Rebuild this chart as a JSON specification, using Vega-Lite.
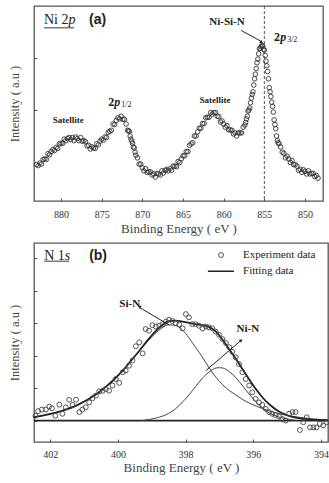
{
  "$schema": "https://vega.github.io/schema/vega-lite/v6.json",
  "background": "white",
  "padding": {"left": 7, "top": 4, "right": 2, "bottom": 0},
  "spacing": 6,
  "config": {
    "view": {"stroke": "#555", "strokeWidth": 1.3}
  },
  "datasets": {
    "ni2p": [
      {"e":883.0,"i":0.95},{"e":882.8,"i":0.93},{"e":882.6,"i":0.98},{"e":882.4,"i":0.96},{"e":882.2,"i":1.05},{"e":882.0,"i":1.06},{"e":881.8,"i":1.05},{"e":881.6,"i":1.16},{"e":881.4,"i":1.14},{"e":881.2,"i":1.20},
      {"e":881.0,"i":1.24},{"e":880.8,"i":1.22},{"e":880.6,"i":1.28},{"e":880.4,"i":1.26},{"e":880.2,"i":1.35},{"e":880.0,"i":1.36},{"e":879.8,"i":1.36},{"e":879.6,"i":1.44},{"e":879.4,"i":1.41},{"e":879.2,"i":1.45},
      {"e":879.0,"i":1.47},{"e":878.8,"i":1.43},{"e":878.6,"i":1.47},{"e":878.4,"i":1.41},{"e":878.2,"i":1.48},{"e":878.0,"i":1.45},{"e":877.8,"i":1.41},{"e":877.6,"i":1.47},{"e":877.4,"i":1.40},{"e":877.2,"i":1.41},
      {"e":877.0,"i":1.39},{"e":876.8,"i":1.31},{"e":876.6,"i":1.32},{"e":876.4,"i":1.25},{"e":876.2,"i":1.29},{"e":876.0,"i":1.27},{"e":875.8,"i":1.26},{"e":875.6,"i":1.35},{"e":875.4,"i":1.33},{"e":875.2,"i":1.40},
      {"e":875.0,"i":1.44},{"e":874.8,"i":1.42},{"e":874.6,"i":1.48},{"e":874.4,"i":1.47},{"e":874.2,"i":1.57},{"e":874.0,"i":1.59},{"e":873.8,"i":1.61},{"e":873.6,"i":1.73},{"e":873.4,"i":1.72},{"e":873.2,"i":1.80},
      {"e":873.0,"i":1.85},{"e":872.8,"i":1.83},{"e":872.6,"i":1.88},{"e":872.4,"i":1.82},{"e":872.2,"i":1.82},{"e":872.0,"i":1.73},{"e":871.8,"i":1.61},{"e":871.7,"i":1.60},{"e":871.6,"i":1.59},{"e":871.5,"i":1.50},
      {"e":871.4,"i":1.44},{"e":871.3,"i":1.40},{"e":871.2,"i":1.36},{"e":871.1,"i":1.29},{"e":871.0,"i":1.27},{"e":870.9,"i":1.19},{"e":870.8,"i":1.13},{"e":870.6,"i":1.08},{"e":870.4,"i":0.96},{"e":870.2,"i":0.96},
      {"e":870.0,"i":0.89},{"e":869.8,"i":0.83},{"e":869.6,"i":0.87},{"e":869.4,"i":0.80},{"e":869.2,"i":0.81},{"e":869.0,"i":0.81},{"e":868.8,"i":0.75},{"e":868.6,"i":0.77},{"e":868.4,"i":0.71},{"e":868.2,"i":0.78},
      {"e":868.0,"i":0.77},{"e":867.8,"i":0.75},{"e":867.6,"i":0.83},{"e":867.4,"i":0.79},{"e":867.2,"i":0.84},{"e":867.0,"i":0.86},{"e":866.8,"i":0.83},{"e":866.6,"i":0.87},{"e":866.4,"i":0.84},{"e":866.2,"i":0.92},
      {"e":866.0,"i":0.92},{"e":865.8,"i":0.91},{"e":865.6,"i":1.01},{"e":865.4,"i":0.99},{"e":865.2,"i":1.06},{"e":865.0,"i":1.12},{"e":864.8,"i":1.12},{"e":864.6,"i":1.20},{"e":864.4,"i":1.20},{"e":864.2,"i":1.32},
      {"e":864.0,"i":1.35},{"e":863.8,"i":1.37},{"e":863.6,"i":1.50},{"e":863.4,"i":1.50},{"e":863.2,"i":1.58},{"e":863.0,"i":1.65},{"e":862.8,"i":1.65},{"e":862.6,"i":1.74},{"e":862.4,"i":1.74},{"e":862.2,"i":1.85},
      {"e":862.0,"i":1.86},{"e":861.8,"i":1.86},{"e":861.6,"i":1.95},{"e":861.4,"i":1.92},{"e":861.2,"i":1.95},{"e":861.0,"i":1.95},{"e":860.8,"i":1.88},{"e":860.6,"i":1.87},{"e":860.4,"i":1.77},{"e":860.2,"i":1.79},
      {"e":860.0,"i":1.73},{"e":859.8,"i":1.67},{"e":859.6,"i":1.70},{"e":859.4,"i":1.62},{"e":859.2,"i":1.62},{"e":859.0,"i":1.61},{"e":858.8,"i":1.54},{"e":858.6,"i":1.56},{"e":858.4,"i":1.50},{"e":858.2,"i":1.56},
      {"e":858.0,"i":1.56},{"e":857.8,"i":1.56},{"e":857.6,"i":1.67},{"e":857.4,"i":1.71},{"e":857.3,"i":1.76},{"e":857.2,"i":1.83},{"e":857.1,"i":1.88},{"e":857.0,"i":1.98},{"e":856.9,"i":2.00},{"e":856.8,"i":2.04},
      {"e":856.7,"i":2.14},{"e":856.6,"i":2.23},{"e":856.5,"i":2.30},{"e":856.4,"i":2.35},{"e":856.3,"i":2.48},{"e":856.2,"i":2.60},{"e":856.1,"i":2.69},{"e":856.0,"i":2.80},{"e":855.9,"i":2.91},{"e":855.8,"i":2.98},
      {"e":855.7,"i":3.08},{"e":855.6,"i":3.18},{"e":855.5,"i":3.19},{"e":855.4,"i":3.22},{"e":855.3,"i":3.24},{"e":855.2,"i":3.23},{"e":855.1,"i":3.17},{"e":855.0,"i":3.15},{"e":854.9,"i":3.05},{"e":854.8,"i":2.94},
      {"e":854.7,"i":2.85},{"e":854.6,"i":2.74},{"e":854.5,"i":2.60},{"e":854.4,"i":2.43},{"e":854.3,"i":2.35},{"e":854.2,"i":2.26},{"e":854.1,"i":2.15},{"e":854.0,"i":2.07},{"e":853.9,"i":1.96},{"e":853.8,"i":1.81},
      {"e":853.7,"i":1.72},{"e":853.6,"i":1.64},{"e":853.5,"i":1.50},{"e":853.4,"i":1.41},{"e":853.3,"i":1.37},{"e":853.2,"i":1.35},{"e":853.0,"i":1.29},{"e":852.8,"i":1.19},{"e":852.6,"i":1.17},{"e":852.4,"i":1.08},
      {"e":852.2,"i":1.11},{"e":852.0,"i":1.06},{"e":851.8,"i":0.99},{"e":851.6,"i":1.03},{"e":851.4,"i":0.95},{"e":851.2,"i":0.95},{"e":851.0,"i":0.92},{"e":850.8,"i":0.84},{"e":850.6,"i":0.86},{"e":850.4,"i":0.80},
      {"e":850.2,"i":0.85},{"e":850.0,"i":0.82},{"e":849.8,"i":0.77},{"e":849.6,"i":0.83},{"e":849.4,"i":0.77},{"e":849.2,"i":0.78},{"e":849.0,"i":0.78},{"e":848.8,"i":0.72},{"e":848.6,"i":0.74},{"e":848.4,"i":0.69}
    ],
    "n1s": [
      {"e":402.44,"i":0.15},{"e":402.36,"i":0.29},{"e":402.25,"i":0.34},{"e":402.13,"i":0.34},{"e":402.03,"i":0.43},{"e":401.95,"i":0.38},{"e":401.85,"i":0.15},{"e":401.73,"i":0.49},{"e":401.64,"i":0.21},{"e":401.54,"i":0.41},
      {"e":401.44,"i":0.64},{"e":401.34,"i":0.48},{"e":401.24,"i":0.64},{"e":401.14,"i":0.26},{"e":401.05,"i":0.34},{"e":400.95,"i":0.41},{"e":400.85,"i":0.56},{"e":400.75,"i":0.69},{"e":400.65,"i":0.77},{"e":400.55,"i":0.90},
      {"e":400.45,"i":0.92},{"e":400.36,"i":0.97},{"e":400.26,"i":0.92},{"e":400.16,"i":1.08},{"e":400.06,"i":1.28},{"e":399.96,"i":1.16},{"e":399.86,"i":1.49},{"e":399.77,"i":1.54},{"e":399.67,"i":1.69},{"e":399.57,"i":1.85},
      {"e":399.47,"i":2.29},{"e":399.37,"i":2.41},{"e":399.27,"i":2.07},{"e":399.18,"i":2.82},{"e":399.08,"i":2.77},{"e":398.98,"i":2.94},{"e":398.88,"i":2.90},{"e":398.78,"i":2.92},{"e":398.68,"i":2.97},{"e":398.58,"i":3.05},
      {"e":398.49,"i":3.11},{"e":398.39,"i":3.07},{"e":398.29,"i":3.00},{"e":398.19,"i":2.96},{"e":398.09,"i":2.84},{"e":397.99,"i":3.28},{"e":397.90,"i":3.18},{"e":397.80,"i":2.97},{"e":397.70,"i":2.97},{"e":397.60,"i":2.92},
      {"e":397.50,"i":2.84},{"e":397.40,"i":2.90},{"e":397.31,"i":2.87},{"e":397.21,"i":2.84},{"e":397.11,"i":2.74},{"e":397.01,"i":2.64},{"e":396.91,"i":2.51},{"e":396.81,"i":2.39},{"e":396.71,"i":2.26},{"e":396.62,"i":2.12},
      {"e":396.52,"i":1.95},{"e":396.42,"i":1.74},{"e":396.32,"i":1.49},{"e":396.22,"i":1.28},{"e":396.12,"i":1.08},{"e":396.03,"i":0.87},{"e":395.93,"i":0.67},{"e":395.83,"i":0.56},{"e":395.73,"i":0.48},{"e":395.63,"i":0.36},
      {"e":395.53,"i":0.26},{"e":395.44,"i":0.21},{"e":395.34,"i":0.17},{"e":395.24,"i":0.13},{"e":395.14,"i":0.05},{"e":395.04,"i":0.00},{"e":394.94,"i":0.21},{"e":394.84,"i":0.26},{"e":394.75,"i":0.26},{"e":394.62,"i":-0.29},
      {"e":394.52,"i":-0.05},{"e":394.42,"i":0.10},{"e":394.32,"i":-0.21},{"e":394.22,"i":-0.21},{"e":394.13,"i":-0.21},{"e":394.03,"i":-0.10},{"e":393.93,"i":-0.15},{"e":393.83,"i":-0.05}
    ],
    "env": [
      {"e":402.5,"i":0.10},{"e":402.3,"i":0.14},{"e":402.1,"i":0.18},{"e":401.9,"i":0.23},{"e":401.7,"i":0.28},{"e":401.5,"i":0.35},{"e":401.3,"i":0.43},{"e":401.1,"i":0.53},{"e":400.9,"i":0.64},{"e":400.7,"i":0.77},
      {"e":400.5,"i":0.92},{"e":400.3,"i":1.09},{"e":400.1,"i":1.28},{"e":399.9,"i":1.49},{"e":399.7,"i":1.73},{"e":399.5,"i":1.98},{"e":399.3,"i":2.24},{"e":399.1,"i":2.50},{"e":398.9,"i":2.74},{"e":398.7,"i":2.93},
      {"e":398.5,"i":3.06},{"e":398.3,"i":3.08},{"e":398.1,"i":3.05},{"e":397.9,"i":3.01},{"e":397.7,"i":2.97},{"e":397.5,"i":2.94},{"e":397.3,"i":2.88},{"e":397.1,"i":2.74},{"e":396.9,"i":2.48},{"e":396.7,"i":2.18},
      {"e":396.5,"i":1.88},{"e":396.3,"i":1.56},{"e":396.1,"i":1.24},{"e":395.9,"i":0.94},{"e":395.7,"i":0.68},{"e":395.5,"i":0.48},{"e":395.3,"i":0.32},{"e":395.1,"i":0.21},{"e":394.9,"i":0.13},{"e":394.7,"i":0.08},
      {"e":394.5,"i":0.05},{"e":394.3,"i":0.03},{"e":394.1,"i":0.02},{"e":393.8,"i":0.01}
    ],
    "comp": [
      {"s":"Si-N","e":402.5,"i":0.10},{"s":"Si-N","e":402.3,"i":0.14},{"s":"Si-N","e":402.1,"i":0.18},{"s":"Si-N","e":401.9,"i":0.23},{"s":"Si-N","e":401.7,"i":0.28},{"s":"Si-N","e":401.5,"i":0.35},{"s":"Si-N","e":401.3,"i":0.43},{"s":"Si-N","e":401.1,"i":0.53},
      {"s":"Si-N","e":400.9,"i":0.64},{"s":"Si-N","e":400.7,"i":0.77},{"s":"Si-N","e":400.5,"i":0.92},{"s":"Si-N","e":400.3,"i":1.09},{"s":"Si-N","e":400.1,"i":1.28},{"s":"Si-N","e":399.9,"i":1.49},{"s":"Si-N","e":399.7,"i":1.73},{"s":"Si-N","e":399.5,"i":1.98},
      {"s":"Si-N","e":399.3,"i":2.23},{"s":"Si-N","e":399.1,"i":2.47},{"s":"Si-N","e":398.9,"i":2.68},{"s":"Si-N","e":398.7,"i":2.85},{"s":"Si-N","e":398.5,"i":2.95},{"s":"Si-N","e":398.3,"i":2.93},{"s":"Si-N","e":398.1,"i":2.80},{"s":"Si-N","e":397.9,"i":2.55},
      {"s":"Si-N","e":397.7,"i":2.25},{"s":"Si-N","e":397.5,"i":1.95},{"s":"Si-N","e":397.3,"i":1.62},{"s":"Si-N","e":397.1,"i":1.33},{"s":"Si-N","e":396.9,"i":1.10},{"s":"Si-N","e":396.7,"i":0.92},{"s":"Si-N","e":396.5,"i":0.78},{"s":"Si-N","e":396.3,"i":0.64},
      {"s":"Si-N","e":396.1,"i":0.53},{"s":"Si-N","e":395.9,"i":0.44},{"s":"Si-N","e":395.7,"i":0.36},{"s":"Si-N","e":395.5,"i":0.29},{"s":"Si-N","e":395.3,"i":0.23},{"s":"Si-N","e":395.1,"i":0.18},{"s":"Si-N","e":394.9,"i":0.14},{"s":"Si-N","e":394.7,"i":0.11},
      {"s":"Si-N","e":394.5,"i":0.08},{"s":"Si-N","e":394.3,"i":0.06},{"s":"Si-N","e":394.1,"i":0.04},{"s":"Si-N","e":393.8,"i":0.02},
      {"s":"Ni-N","e":399.3,"i":0.0},{"s":"Ni-N","e":399.1,"i":0.03},{"s":"Ni-N","e":398.9,"i":0.07},{"s":"Ni-N","e":398.7,"i":0.13},{"s":"Ni-N","e":398.5,"i":0.22},{"s":"Ni-N","e":398.3,"i":0.36},{"s":"Ni-N","e":398.1,"i":0.56},{"s":"Ni-N","e":397.9,"i":0.79},
      {"s":"Ni-N","e":397.7,"i":1.05},{"s":"Ni-N","e":397.5,"i":1.31},{"s":"Ni-N","e":397.3,"i":1.50},{"s":"Ni-N","e":397.1,"i":1.62},{"s":"Ni-N","e":397.0,"i":1.63},{"s":"Ni-N","e":396.9,"i":1.62},{"s":"Ni-N","e":396.7,"i":1.50},{"s":"Ni-N","e":396.5,"i":1.31},
      {"s":"Ni-N","e":396.3,"i":1.05},{"s":"Ni-N","e":396.1,"i":0.79},{"s":"Ni-N","e":395.9,"i":0.56},{"s":"Ni-N","e":395.7,"i":0.36},{"s":"Ni-N","e":395.5,"i":0.22},{"s":"Ni-N","e":395.3,"i":0.13},{"s":"Ni-N","e":395.1,"i":0.07},{"s":"Ni-N","e":394.9,"i":0.03},{"s":"Ni-N","e":394.7,"i":0.0}
    ]
  },
  "vconcat": [
    {
      "width": 289,
      "height": 195,
      "encoding": {
        "x": {"field": "e", "type": "quantitative", "scale": {"domain": [847.79, 883.32], "reverse": true, "nice": false, "zero": false},
              "axis": {"values": [880, 875, 870, 865, 860, 855, 850], "title": "Binding Energy ( eV )", "domain": false, "grid": false, "ticks": true, "tickSize": -3, "tickColor": "#555", "labelFont": "Liberation Serif", "labelFontSize": 10, "labelColor": "#333", "labelPadding": 11, "titleFont": "Liberation Serif", "titleFontSize": 13, "titleFontWeight": 400, "titleColor": "#444", "titlePadding": 3}},
        "y": {"field": "i", "type": "quantitative", "scale": {"domain": [0.25, 4.0], "nice": false, "zero": false},
              "axis": {"values": [2, 3], "title": "Intensity ( a.u )", "labels": false, "domain": false, "grid": false, "ticks": true, "tickSize": -3, "tickColor": "#555", "titleFont": "Liberation Serif", "titleFontSize": 12.5, "titleFontWeight": 400, "titleColor": "#444", "titlePadding": 12}}
      },
      "layer": [
        {"data": {"name": "ni2p"}, "mark": {"type": "point", "shape": "circle", "size": 21, "filled": false, "color": "#333", "strokeWidth": 0.9, "opacity": 1}},
        {"data": {"values": [{"e": 855}]}, "mark": {"type": "rule", "strokeDash": [3, 2], "color": "#444", "strokeWidth": 0.9}, "encoding": {"x": {"field": "e", "type": "quantitative"}, "y": null}},
        {"data": {"values": [{"e": 859.6, "i": 3.69, "t": "Ni-Si-N"}]}, "mark": {"type": "text", "font": "Liberation Serif", "fontWeight": "bold", "fontSize": 11, "align": "center", "baseline": "middle", "color": "#222"}, "encoding": {"text": {"field": "t"}}},
        {"data": {"values": [{"e": 879.1, "i": 1.81, "t": "Satellite"}, {"e": 861.06, "i": 2.19, "t": "Satellite"}]}, "mark": {"type": "text", "font": "Liberation Serif", "fontWeight": "bold", "fontSize": 9, "align": "center", "baseline": "middle", "color": "#222"}, "encoding": {"text": {"field": "t"}}},
        {"data": {"values": [{"e": 882.09, "i": 3.73, "t": "Ni 2"}]}, "mark": {"type": "text", "font": "Liberation Serif", "fontSize": 14, "align": "left", "baseline": "middle", "color": "#222"}, "encoding": {"text": {"field": "t"}}},
        {"data": {"values": [{"e": 879.08, "i": 3.73, "t": "p"}]}, "mark": {"type": "text", "font": "Liberation Serif", "fontStyle": "italic", "fontSize": 14, "align": "left", "baseline": "middle", "color": "#222"}, "encoding": {"text": {"field": "t"}}},
        {"data": {"values": [{"e": 882.09, "e2": 878.4, "i": 3.58}]}, "mark": {"type": "rule", "color": "#222", "strokeWidth": 0.9}, "encoding": {"x2": {"field": "e2"}}},
        {"data": {"values": [{"e": 876.56, "i": 3.73, "t": "(a)"}]}, "mark": {"type": "text", "font": "Liberation Sans", "fontWeight": "bold", "fontSize": 14, "align": "left", "baseline": "middle", "color": "#222"}, "encoding": {"text": {"field": "t"}}},
        {"data": {"values": [{"e": 853.8, "i": 3.40, "t": "2"}, {"e": 874.2, "i": 2.15, "t": "2"}]}, "mark": {"type": "text", "font": "Liberation Serif", "fontWeight": "bold", "fontSize": 12, "align": "left", "baseline": "middle", "color": "#222"}, "encoding": {"text": {"field": "t"}}},
        {"data": {"values": [{"e": 853.06, "i": 3.40, "t": "p"}, {"e": 873.46, "i": 2.15, "t": "p"}]}, "mark": {"type": "text", "font": "Liberation Serif", "fontWeight": "bold", "fontStyle": "italic", "fontSize": 12, "align": "left", "baseline": "middle", "color": "#222"}, "encoding": {"text": {"field": "t"}}},
        {"data": {"values": [{"e": 852.2, "i": 3.34, "t": "3/2"}, {"e": 872.6, "i": 2.09, "t": "1/2"}]}, "mark": {"type": "text", "font": "Liberation Serif", "fontSize": 8, "align": "left", "baseline": "middle", "color": "#222"}, "encoding": {"text": {"field": "t"}}},
        {"data": {"values": [{"e": 857.86, "e2": 855.5, "i": 3.53, "i2": 3.33}]}, "mark": {"type": "rule", "color": "#222", "strokeWidth": 1}, "encoding": {"x2": {"field": "e2"}, "y2": {"field": "i2"}}},
        {"data": {"values": [{"e": 855.4, "i": 3.31}]}, "mark": {"type": "point", "shape": "triangle", "size": 14, "filled": true, "color": "#222", "angle": 120, "opacity": 1}}
      ]
    },
    {
      "width": 294,
      "height": 199,
      "encoding": {
        "x": {"field": "e", "type": "quantitative", "scale": {"domain": [393.79, 402.48], "reverse": true, "nice": false, "zero": false},
              "axis": {"values": [402, 400, 398, 396, 394], "title": "Binding Energy ( eV )", "domain": false, "grid": false, "ticks": true, "tickSize": -3, "tickColor": "#555", "labelFont": "Liberation Serif", "labelFontSize": 10, "labelColor": "#333", "labelPadding": 10, "titleFont": "Liberation Serif", "titleFontSize": 13, "titleFontWeight": 400, "titleColor": "#444", "titlePadding": 2}},
        "y": {"field": "i", "type": "quantitative", "scale": {"domain": [-0.66, 5.47], "nice": false, "zero": false},
              "axis": {"values": [0, 1, 2, 3, 4, 5], "title": "Intensity ( a.u )", "labels": false, "domain": false, "grid": false, "ticks": true, "tickSize": -3, "tickColor": "#555", "titleFont": "Liberation Serif", "titleFontSize": 12.5, "titleFontWeight": 400, "titleColor": "#444", "titlePadding": 12}}
      },
      "layer": [
        {"data": {"values": [{"i": 0}]}, "mark": {"type": "rule", "color": "#222", "strokeWidth": 1.8}, "encoding": {"x": null, "y": {"field": "i", "type": "quantitative"}}},
        {"data": {"name": "comp"}, "mark": {"type": "line", "color": "#444", "strokeWidth": 1, "interpolate": "monotone"}, "encoding": {"detail": {"field": "s"}}},
        {"data": {"name": "env"}, "mark": {"type": "line", "color": "#222", "strokeWidth": 1.8, "interpolate": "monotone"}},
        {"data": {"name": "n1s"}, "mark": {"type": "point", "shape": "circle", "size": 24, "filled": false, "color": "#444", "strokeWidth": 0.9, "opacity": 1}},
        {"data": {"values": [{"e": 396.95, "i": 5.10}]}, "mark": {"type": "point", "shape": "circle", "size": 24, "filled": false, "color": "#444", "strokeWidth": 0.9, "opacity": 1}},
        {"data": {"values": [{"e": 397.34, "e2": 396.57, "i": 4.60}]}, "mark": {"type": "rule", "color": "#222", "strokeWidth": 1.5}, "encoding": {"x2": {"field": "e2"}}},
        {"data": {"values": [{"e": 396.3, "i": 5.10, "t": "Experiment data"}, {"e": 396.3, "i": 4.60, "t": "Fitting data"}]}, "mark": {"type": "text", "font": "Liberation Serif", "fontSize": 11, "align": "left", "baseline": "middle", "color": "#222"}, "encoding": {"text": {"field": "t"}}},
        {"data": {"values": [{"e": 402.18, "i": 5.07, "t": "N 1"}]}, "mark": {"type": "text", "font": "Liberation Serif", "fontSize": 14, "align": "left", "baseline": "middle", "color": "#222"}, "encoding": {"text": {"field": "t"}}},
        {"data": {"values": [{"e": 401.57, "i": 5.07, "t": "s"}]}, "mark": {"type": "text", "font": "Liberation Serif", "fontStyle": "italic", "fontSize": 14, "align": "left", "baseline": "middle", "color": "#222"}, "encoding": {"text": {"field": "t"}}},
        {"data": {"values": [{"e": 402.18, "e2": 401.44, "i": 4.91}]}, "mark": {"type": "rule", "color": "#222", "strokeWidth": 0.9}, "encoding": {"x2": {"field": "e2"}}},
        {"data": {"values": [{"e": 400.85, "i": 5.07, "t": "(b)"}]}, "mark": {"type": "text", "font": "Liberation Sans", "fontWeight": "bold", "fontSize": 14, "align": "left", "baseline": "middle", "color": "#222"}, "encoding": {"text": {"field": "t"}}},
        {"data": {"values": [{"e": 399.65, "i": 3.59, "t": "Si-N"}, {"e": 396.16, "i": 2.82, "t": "Ni-N"}]}, "mark": {"type": "text", "font": "Liberation Serif", "fontWeight": "bold", "fontSize": 11, "align": "center", "baseline": "middle", "color": "#222"}, "encoding": {"text": {"field": "t"}}},
        {"data": {"values": [{"e": 399.37, "e2": 398.48, "i": 3.49, "i2": 2.94}, {"e": 397.4, "e2": 396.37, "i": 1.54, "i2": 2.46}]}, "mark": {"type": "rule", "color": "#222", "strokeWidth": 1}, "encoding": {"x2": {"field": "e2"}, "y2": {"field": "i2"}}},
        {"data": {"values": [{"e": 399.35, "i": 3.50}]}, "mark": {"type": "point", "shape": "triangle", "size": 14, "filled": true, "color": "#222", "angle": 300, "opacity": 1}},
        {"data": {"values": [{"e": 396.37, "i": 2.46}]}, "mark": {"type": "point", "shape": "triangle", "size": 14, "filled": true, "color": "#222", "angle": 49, "opacity": 1}}
      ]
    }
  ]
}
